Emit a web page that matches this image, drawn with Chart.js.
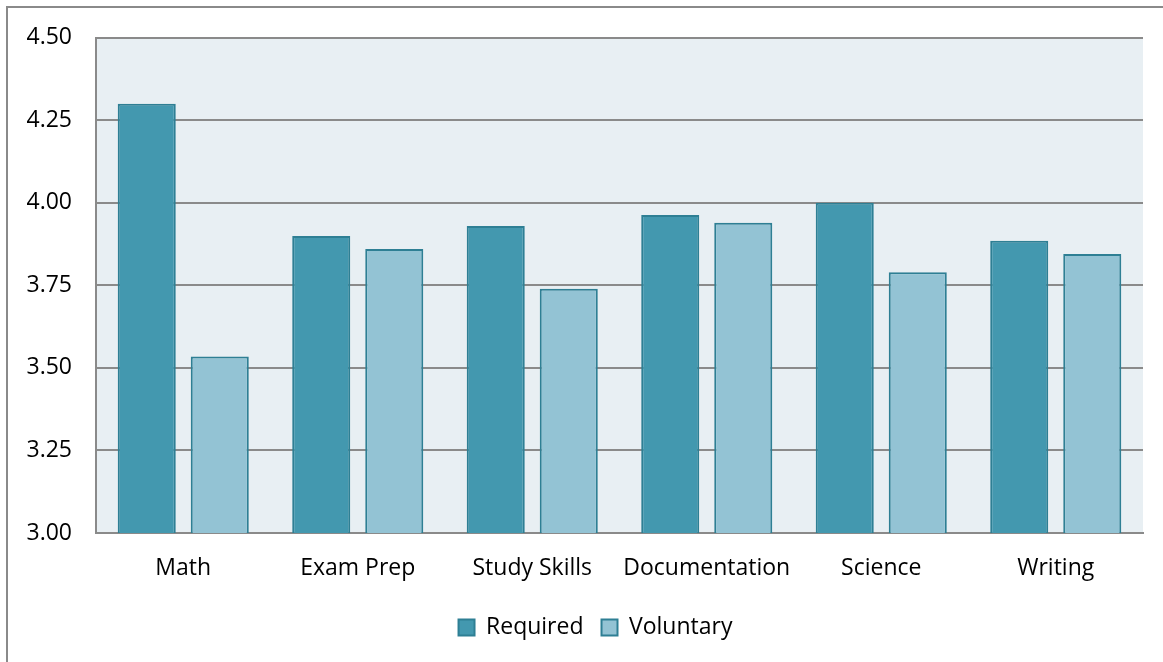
<!DOCTYPE html>
<html>
<head>
<meta charset="utf-8">
<script src="https://cdn.jsdelivr.net/npm/chart.js@4"></script>
<style>
html,body{margin:0;padding:0;background:#fff;}
#wrap{width:1163px;height:662px;position:relative;}
</style>
</head>
<body>
<div id="wrap"><canvas id="c" width="1163" height="662"></canvas></div>
<script>
const categories = ["Math", "Exam Prep", "Study Skills", "Documentation", "Science", "Writing"];
const required = [4.30, 3.90, 3.93, 3.963, 4.00, 3.885];
const voluntary = [3.535, 3.86, 3.74, 3.94, 3.79, 3.845];
const yTicks = [3.00, 3.25, 3.50, 3.75, 4.00, 4.25, 4.50];

const FONT = "'Open Sans', 'Noto Sans', sans-serif";

const frame = {
  id: 'frame',
  beforeDraw(chart) {
    const ctx = chart.ctx, a = chart.chartArea;
    ctx.save();
    ctx.fillStyle = '#fff';
    ctx.fillRect(0, 0, chart.width, chart.height);
    ctx.fillStyle = '#E8EFF3';
    ctx.fillRect(a.left, a.top, a.right - a.left, a.bottom - a.top);
    ctx.strokeStyle = '#8a8a8a';
    ctx.lineWidth = 2;
    ctx.beginPath();
    ctx.moveTo(7, chart.height + 2);
    ctx.lineTo(7, 7);
    ctx.lineTo(chart.width + 2, 7);
    ctx.stroke();
    ctx.restore();
    if (chart.legend && !chart.legend._shifted) {
      chart.legend.left += 24;
      chart.legend.right += 24;
      chart.legend._shifted = true;
    }
  }
};

new Chart(document.getElementById('c'), {
  type: 'bar',
  data: {
    labels: categories,
    datasets: [
      { label: 'Required', data: required, backgroundColor: '#4398AF', borderColor: '#2E7F94', borderWidth: 2,
        categoryPercentage: 0.837, barPercentage: 0.795 },
      { label: 'Voluntary', data: voluntary, backgroundColor: '#93C3D4', borderColor: '#2E7F94', borderWidth: 2,
        categoryPercentage: 0.837, barPercentage: 0.795 }
    ]
  },
  options: {
    responsive: false,
    animation: false,
    layout: { padding: { left: 0, right: 20, top: 35, bottom: 13 } },
    plugins: {
      tooltip: { enabled: false },
      legend: {
        position: 'bottom',
        labels: {
          font: { family: FONT, size: 23 },
          color: '#000',
          boxWidth: 16, boxHeight: 16,
          padding: 18
        }
      }
    },
    scales: {
      x: {
        grid: { display: false, drawTicks: false },
        border: { display: true, color: '#8a8a8a', width: 2 },
        ticks: { font: { family: FONT, size: 23 }, color: '#000', padding: 22, maxRotation: 0 },
        afterFit(s) { s.height = 65; }
      },
      y: {
        min: 3.0, max: 4.5,
        afterBuildTicks(s) { s.ticks = yTicks.map(v => ({ value: v })); },
        grid: { color: '#8a8a8a', lineWidth: 2, drawTicks: false },
        border: { display: true, color: '#8a8a8a', width: 2 },
        ticks: { font: { family: FONT, size: 23 }, color: '#000', padding: 24,
          callback: v => Number(v).toFixed(2) },
        afterFit(s) { s.width = 96; }
      }
    }
  },
  plugins: [frame]
});
</script>
</body>
</html>
